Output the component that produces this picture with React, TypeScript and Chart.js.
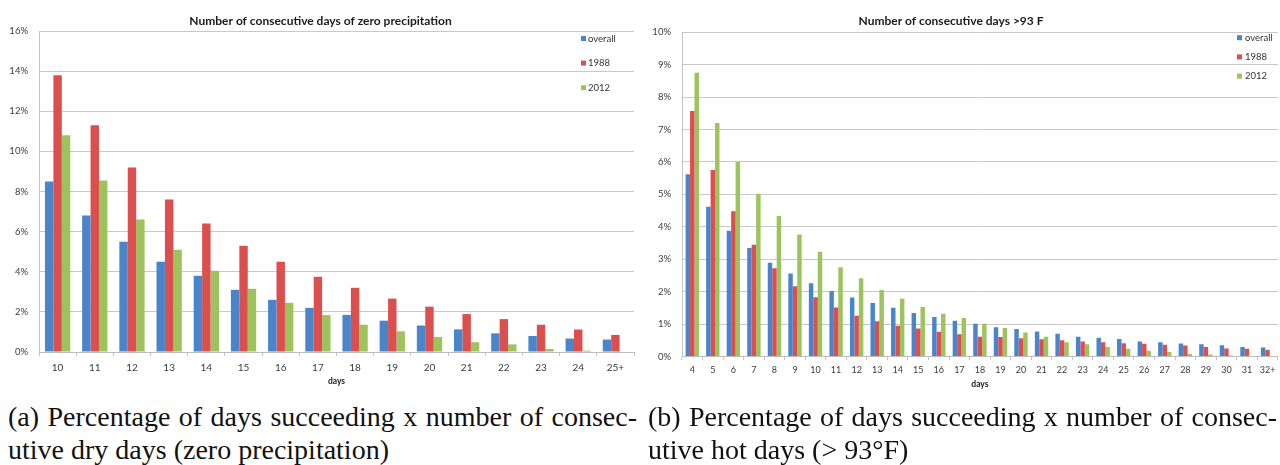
import React, { useEffect, useRef } from "react";
import { Chart, registerables } from "chart.js";

Chart.register(...registerables);

// ---------- data: chart (a) consecutive dry days ----------
const dryDays = ["10", "11", "12", "13", "14", "15", "16", "17", "18", "19", "20", "21", "22", "23", "24", "25+"];
const dryOverall = [8.5, 6.8, 5.5, 4.5, 3.8, 3.1, 2.6, 2.2, 1.85, 1.56, 1.32, 1.13, 0.93, 0.8, 0.67, 0.62];
const dry1988 = [13.8, 11.3, 9.2, 7.6, 6.4, 5.3, 4.5, 3.75, 3.2, 2.66, 2.26, 1.89, 1.64, 1.36, 1.12, 0.85];
const dry2012 = [10.8, 8.55, 6.6, 5.1, 4.05, 3.15, 2.45, 1.84, 1.36, 1.03, 0.75, 0.49, 0.38, 0.15, 0.07, 0];
const dryTitle = "Number of consecutive days of zero precipitation";
const dryMax = 16;
const dryStep = 2;

// ---------- data: chart (b) consecutive hot days ----------
const hotDays = ["4", "5", "6", "7", "8", "9", "10", "11", "12", "13", "14", "15", "16", "17", "18", "19", "20", "21", "22", "23", "24", "25", "26", "27", "28", "29", "30", "31", "32+"];
const hotOverall = [5.62, 4.62, 3.88, 3.35, 2.89, 2.56, 2.26, 2.02, 1.82, 1.65, 1.5, 1.34, 1.22, 1.1, 1.01, 0.9, 0.85, 0.77, 0.7, 0.61, 0.58, 0.54, 0.46, 0.44, 0.4, 0.38, 0.35, 0.29, 0.28];
const hot1988 = [7.57, 5.75, 4.48, 3.45, 2.72, 2.17, 1.83, 1.51, 1.26, 1.09, 0.95, 0.86, 0.76, 0.69, 0.61, 0.6, 0.56, 0.53, 0.5, 0.46, 0.44, 0.41, 0.39, 0.36, 0.34, 0.29, 0.25, 0.24, 0.2];
const hot2012 = [8.75, 7.2, 6.0, 5.02, 4.33, 3.76, 3.23, 2.75, 2.41, 2.05, 1.78, 1.53, 1.32, 1.19, 1.01, 0.88, 0.74, 0.61, 0.44, 0.38, 0.29, 0.24, 0.17, 0.14, 0.08, 0.06, 0.03, 0, 0];
const hotTitle = "Number of consecutive days >93 F";
const hotMax = 10;
const hotStep = 1;

const seriesLabels = ["overall", "1988", "2012"];
const seriesColors = ["#4A85CB", "#DC4F4F", "#9CC35C"];

const captionA = ["(a) Percentage of days succeeding x number of consec-", "utive dry days (zero precipitation)"];
const captionB = ["(b) Percentage of days succeeding x number of consec-", "utive hot days (> 93°F)"];

const FONT = "Lato, 'Open Sans', sans-serif";

const insideLegend = {
  id: "insideLegend",
  afterDraw(chart: any, _args: any, opts: any) {
    const ctx = chart.ctx;
    ctx.save();
    ctx.font = `${opts.fontSize}px ${FONT}`;
    ctx.textBaseline = "middle";
    ctx.textAlign = "left";
    chart.data.datasets.forEach((ds: any, i: number) => {
      const y = opts.top + i * opts.spacing;
      ctx.fillStyle = ds.backgroundColor;
      ctx.fillRect(opts.boxX, y - opts.box / 2, opts.box, opts.box);
      ctx.fillStyle = "#333333";
      ctx.fillText(ds.label, opts.textX, y);
    });
    ctx.restore();
  },
};

type Geo = {
  padLeft: number;
  padRight: number;
  yWidth: number;
  xHeight: number;
  titleTop: number;
  titleBottom: number;
  xTickLen: number;
  xTickPad: number;
  xTickSize: number;
  xTitleBottom: number;
  catPct: number;
  legend: any;
};

function makeConfig(labels: string[], a: number[], b: number[], c: number[], title: string, max: number, step: number, g: Geo): any {
  const values = [a, b, c];
  return {
    type: "bar",
    data: {
      labels,
      datasets: values.map((v, i) => ({
        label: seriesLabels[i],
        data: v,
        backgroundColor: seriesColors[i],
        borderWidth: 0,
        barPercentage: 1.0,
        categoryPercentage: g.catPct,
      })),
    },
    plugins: [insideLegend],
    options: {
      responsive: false,
      animation: false,
      devicePixelRatio: 1,
      layout: { padding: { left: g.padLeft, right: g.padRight, top: 0, bottom: 0 } },
      plugins: {
        legend: { display: false },
        tooltip: { enabled: false },
        title: {
          display: true,
          text: title,
          color: "#1a1a1a",
          font: { family: FONT, size: 12, weight: "bold", lineHeight: 1.2 },
          padding: { top: g.titleTop, bottom: g.titleBottom },
        },
        insideLegend: g.legend,
      },
      scales: {
        x: {
          offset: true,
          grid: {
            display: true,
            offset: true,
            drawOnChartArea: false,
            drawTicks: true,
            tickLength: g.xTickLen,
            color: "#c4c4c4",
          },
          border: { display: true, color: "#bdbdbd", width: 1 },
          ticks: {
            color: "#3a3a3a",
            font: { family: FONT, size: g.xTickSize, lineHeight: 1.2 },
            padding: g.xTickPad,
            maxRotation: 0,
            autoSkip: false,
          },
          title: {
            display: true,
            text: "days",
            color: "#1a1a1a",
            font: { family: FONT, size: 8.5, weight: "bold", lineHeight: 1.2 },
            padding: { top: 0, bottom: g.xTitleBottom },
          },
          afterFit: (s: any) => {
            s.height = g.xHeight;
          },
        },
        y: {
          min: 0,
          max,
          grid: { color: "#c9c9c9", lineWidth: 1, drawTicks: false },
          border: { display: true, color: "#c4c4c4", width: 1 },
          ticks: {
            stepSize: step,
            color: "#3a3a3a",
            padding: 11,
            font: { family: FONT, size: 9.5 },
            callback: (v: any) => `${v}%`,
          },
          afterFit: (s: any) => {
            s.width = g.yWidth;
          },
        },
      },
    },
  };
}

function ChartCanvas({ config, left, width, height }: { config: any; left: number; width: number; height: number }) {
  const ref = useRef<HTMLCanvasElement | null>(null);
  useEffect(() => {
    if (!ref.current) return;
    const chart = new Chart(ref.current, config);
    return () => chart.destroy();
  }, [config]);
  return (
    <canvas
      ref={ref}
      width={width}
      height={height}
      style={{ position: "absolute", left, top: 0, width, height }}
    />
  );
}

const configA = makeConfig(dryDays, dryOverall, dry1988, dry2012, dryTitle, dryMax, dryStep, {
  padLeft: 7,
  padRight: 6,
  yWidth: 32,
  xHeight: 38,
  titleTop: 13.8,
  titleBottom: 2.8,
  xTickLen: 4,
  xTickPad: 5.5,
  xTickSize: 10,
  xTitleBottom: 3.2,
  catPct: 0.68,
  legend: { boxX: 581, textX: 588, top: 38.5, spacing: 24.6, box: 5, fontSize: 9.5 },
});

const configB = makeConfig(hotDays, hotOverall, hot1988, hot2012, hotTitle, hotMax, hotStep, {
  padLeft: 2,
  padRight: 2,
  yWidth: 58,
  xHeight: 33.5,
  titleTop: 13.8,
  titleBottom: 4.1,
  xTickLen: 3.5,
  xTickPad: 4.6,
  xTickSize: 9,
  xTitleBottom: 0.9,
  catPct: 0.65,
  legend: { boxX: 615, textX: 623, top: 37.7, spacing: 19.2, box: 5, fontSize: 9.5 },
});

const captionStyle: React.CSSProperties = {
  position: "absolute",
  top: 400,
  width: 629,
  fontFamily: "'Liberation Serif', 'DejaVu Serif', serif",
  fontSize: 28,
  lineHeight: "33px",
  color: "#111",
  whiteSpace: "nowrap",
};

function Caption({ lines, left }: { lines: string[]; left: number }) {
  return (
    <div style={{ ...captionStyle, left }}>
      <div style={{ textAlign: "justify", textAlignLast: "justify", whiteSpace: "normal" }}>{lines[0]}</div>
      <div>{lines[1]}</div>
    </div>
  );
}

export default function App() {
  return (
    <div style={{ position: "absolute", left: 0, top: 0, width: 1280, height: 465, background: "#ffffff", overflow: "hidden" }}>
      <ChartCanvas config={configA} left={0} width={640} height={390} />
      <ChartCanvas config={configB} left={622} width={658} height={390} />
      <Caption lines={captionA} left={8} />
      <Caption lines={captionB} left={648} />
    </div>
  );
}
